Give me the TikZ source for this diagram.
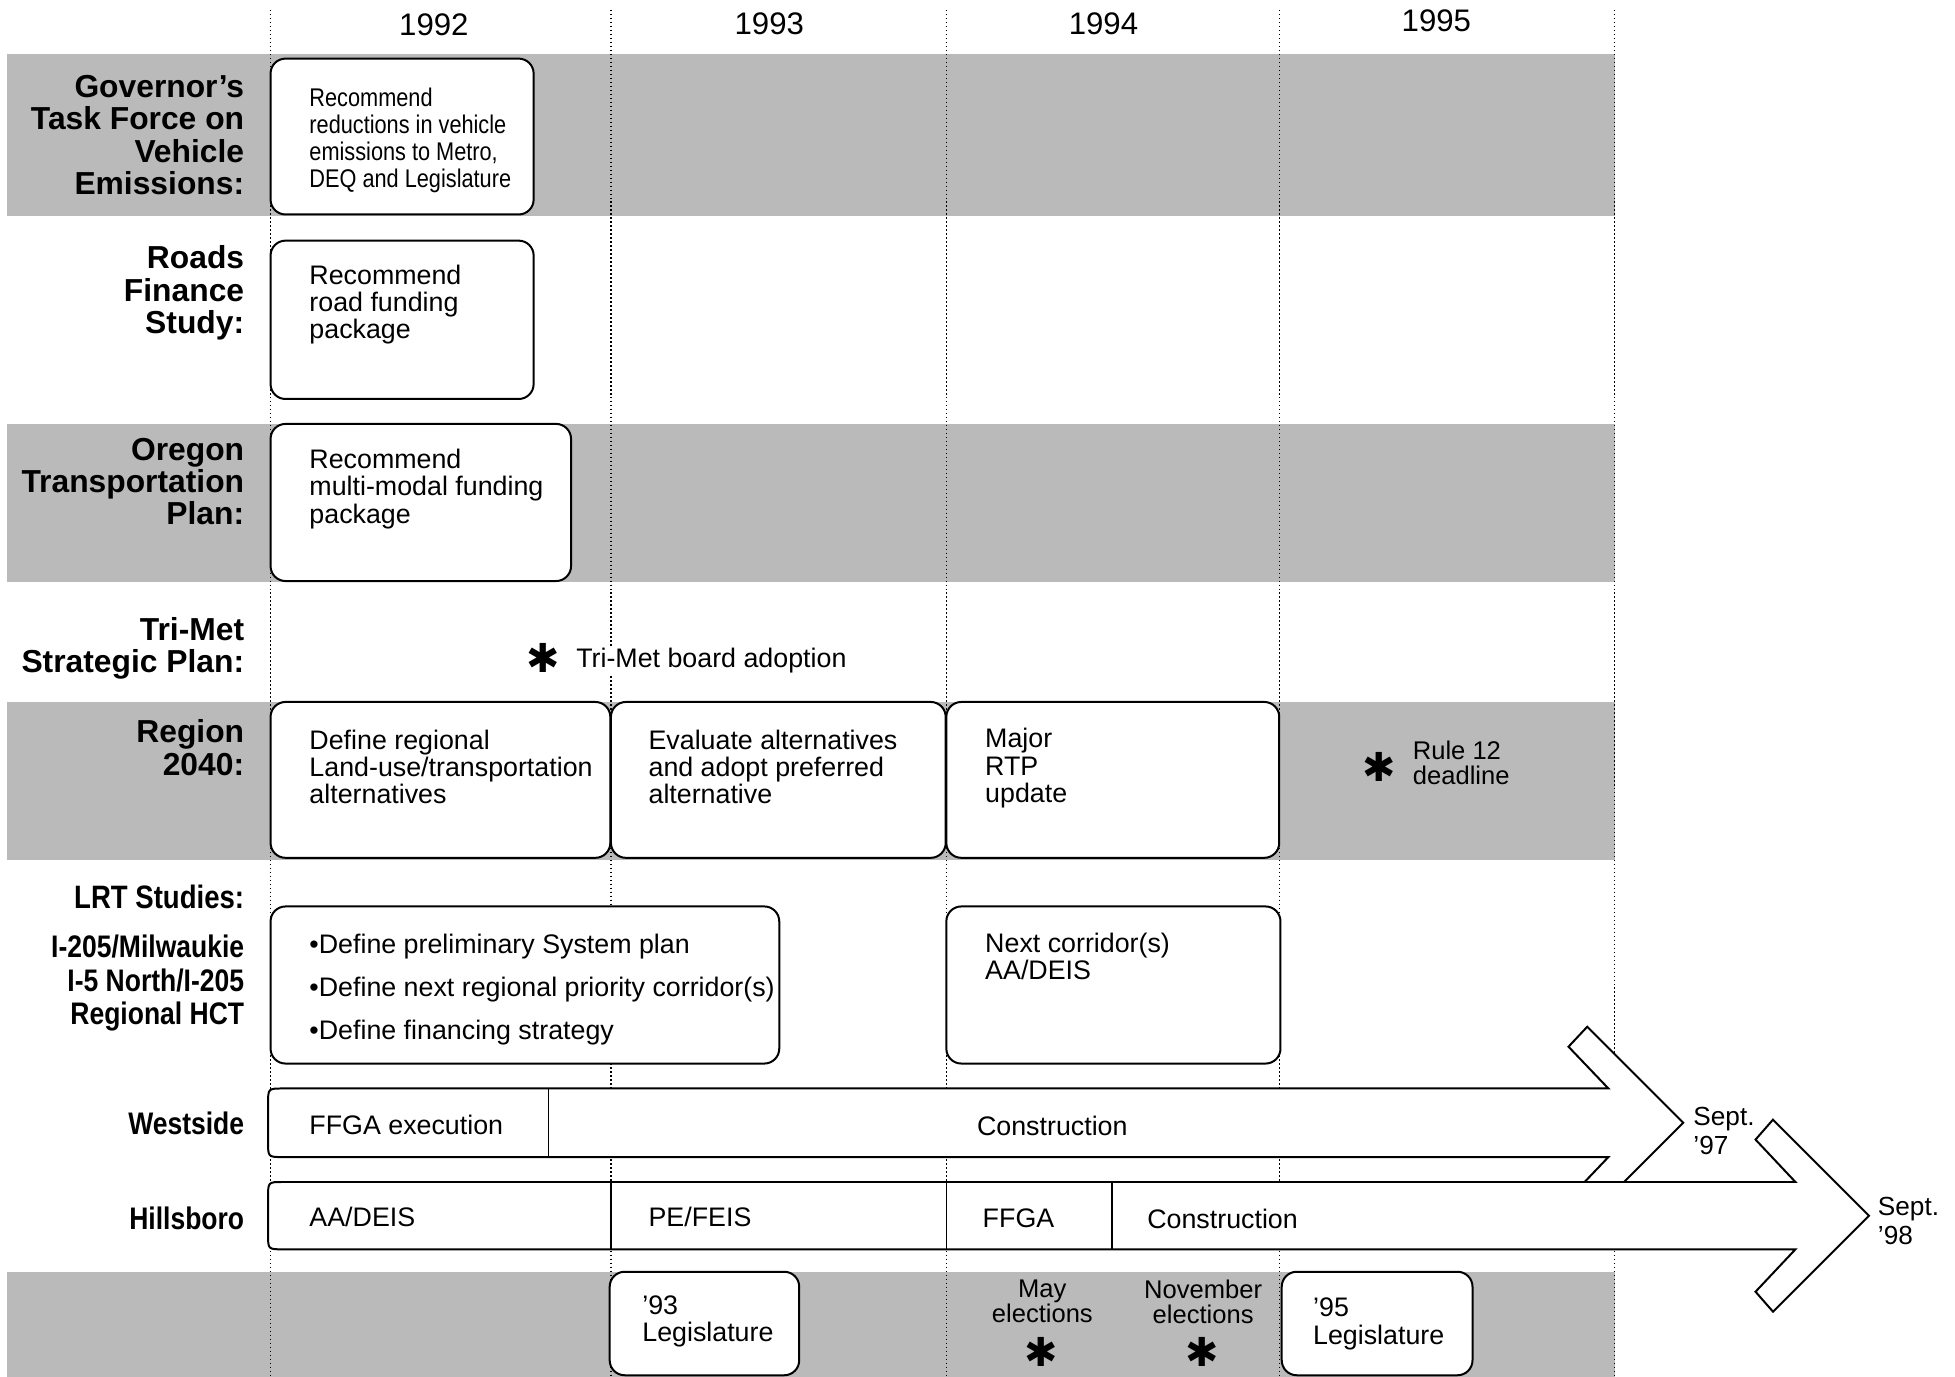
\documentclass[tikz,border=0pt]{standalone}
\usepackage{fontspec}
\setmainfont{Liberation Sans}
\newfontfamily\narrowfont{Liberation Sans}[FakeStretch=0.85]
\newfontfamily\starfont{DejaVu Sans}
\usepackage{tikz}

\begin{document}
\begin{tikzpicture}[x=1pt, y=-1pt,
        band/.style={fill=black!27},
        yearline/.style={line width=1pt, dash pattern=on 1.2pt off 2pt},
        taskbox/.style={draw, fill=white, rounded corners=12pt, line width=1.6pt,
            inner sep=0pt, outer sep=0pt, anchor=north west},
        timebar/.style={draw, fill=white, line width=1.6pt, line join=miter},
        divider/.style={line width=1.2pt},
        rowlabel/.style={font=\bfseries\fontsize{25.5}{26}\selectfont, align=right,
            anchor=north east, inner sep=0pt},
        sublabel/.style={font=\narrowfont\bfseries\fontsize{25}{26.5}\selectfont,
            align=right, inner sep=0pt},
        boxtext/.style={font=\fontsize{21.5}{22}\selectfont, align=left,
            anchor=north west, inner sep=0pt},
        smalltext/.style={font=\fontsize{20.5}{20.5}\selectfont, inner sep=0pt},
        yearlabel/.style={font=\fontsize{25}{25}\selectfont, inner sep=0pt},
        star/.style={font=\starfont\fontsize{32}{32}\selectfont, inner sep=0pt}]

    \useasboundingbox (0,0) rectangle (1568,1104);

    % Затенённые полосы
    \fill[band] (6,43) rectangle (1295,173);
    \fill[band] (6,340) rectangle (1295,467);
    \fill[band] (6,563) rectangle (1295,690);
    \fill[band] (6,1020) rectangle (1295,1104);

    % Границы лет
    \draw[yearline] (217,8) -- (217,1104);
    \draw[yearline] (490,8) -- (490,1104);
    \draw[yearline] (759,8) -- (759,1104);
    \draw[yearline] (1026,8) -- (1026,1104);
    \draw[yearline] (1295,8) -- (1295,1104);

    % Годы
    \node[yearlabel] (y92) at (348,20) {1992};
    \node[yearlabel] (y93) at (617,19) {1993};
    \node[yearlabel] (y94) at (885,19) {1994};
    \node[yearlabel] (y95) at (1152,17) {1995};

    % Подписи строк
    \node[rowlabel] (govlbl) at (196,60) {Governor’s\\Task Force on\\Vehicle\\Emissions:};
    \node[rowlabel] (roadlbl) at (196,197) {Roads\\Finance\\Study:};
    \node[rowlabel] (orelbl) at (196,351) {Oregon\\Transportation\\Plan:};
    \node[rowlabel] (tmlbl) at (196,495) {Tri-Met\\Strategic Plan:};
    \node[rowlabel] (reglbl) at (196,577) {Region\\2040:};
    \node[sublabel, anchor=east, font=\narrowfont\bfseries\fontsize{26}{26}\selectfont] (lrtlbl) at (196,719) {LRT Studies:};
    \node[sublabel, anchor=north east] (corrlbl) at (196,750) {I-205/Milwaukie\\I-5 North/I-205\\Regional HCT};
    \node[sublabel, anchor=east] (wslbl) at (196,901) {Westside};
    \node[sublabel, anchor=east] (hblbl) at (196,977) {Hillsboro};

    % Блоки 1992
    \node[taskbox, minimum width=211pt, minimum height=125pt] (govbox) at (217,47) {};
    \node[boxtext, font=\narrowfont\fontsize{20.5}{21.7}\selectfont] (govtxt) at (248,70)
        {Recommend\\reductions in vehicle\\emissions to Metro,\\DEQ and Legislature};
    \node[taskbox, minimum width=211pt, minimum height=127pt] (roadbox) at (217,193) {};
    \node[boxtext] (roadtxt) at (248,212) {Recommend\\road funding\\package};
    \node[taskbox, minimum width=241pt, minimum height=126pt] (orebox) at (217,340) {};
    \node[boxtext] (oretxt) at (248,360) {Recommend\\multi-modal funding\\package};

    % Tri-Met
    \node[star] (tmstar) at (436,528) {✱};
    \node[boxtext, anchor=west, fill=white, inner sep=2pt] (tmtxt) at (460,530) {Tri-Met board adoption};

    % Region 2040
    \node[taskbox, minimum width=272.5pt, minimum height=125pt] (regbox1) at (217,563) {};
    \node[boxtext] (regtxt1) at (248,585) {Define regional\\Land-use/transportation\\alternatives};
    \node[taskbox, minimum width=268.5pt, minimum height=125pt] (regbox2) at (490,563) {};
    \node[boxtext] (regtxt2) at (520,585) {Evaluate alternatives\\and adopt preferred\\alternative};
    \node[taskbox, minimum width=267pt, minimum height=125pt] (regbox3) at (759,563) {};
    \node[boxtext] (regtxt3) at (790,584) {Major\\RTP\\update};
    \node[star] (rulestar) at (1106,615) {✱};
    \node[smalltext, align=left, anchor=north west] (ruletxt) at (1133,594) {Rule 12\\deadline};

    % LRT
    \node[taskbox, minimum width=408pt, minimum height=126pt] (lrtbox1) at (217,727) {};
    \node[boxtext, font=\fontsize{21.5}{34.5}\selectfont] (lrttxt1) at (248,749)
        {•Define preliminary System plan\\•Define next regional priority corridor(s)\\•Define financing strategy};
    \node[taskbox, minimum width=268pt, minimum height=126pt] (lrtbox2) at (759,727) {};
    \node[boxtext] (lrttxt2) at (790,748) {Next corridor(s)\\AA/DEIS};

    % Westside
    \draw[timebar] (227,873) -- (1290,873) -- (1258,839.5) -- (1273,823.5) -- (1350,900.5)
        -- (1273,977.5) -- (1258,961.5) -- (1290,928) -- (227,928)
        .. controls (215,928) .. (215,916) -- (215,885) .. controls (215,873) .. (227,873) -- cycle;
    \draw[divider] (440,873) -- (440,928);
    \node[boxtext, anchor=west] (wsffga) at (248,902) {FFGA execution};
    \node[boxtext, anchor=center] (wscons) at (844,903) {Construction};
    \node[boxtext, font=\fontsize{21}{23}\selectfont] (ws97) at (1358,888) {Sept.\\’97};

    % Hillsboro
    \draw[timebar] (227,948) -- (1440,948) -- (1408,914) -- (1422,898) -- (1499,975)
        -- (1422,1052) -- (1408,1036) -- (1440,1002) -- (227,1002)
        .. controls (215,1002) .. (215,990) -- (215,960) .. controls (215,948) .. (227,948) -- cycle;
    \draw[divider] (490,948) -- (490,1002);
    \draw[divider] (759,948) -- (759,1002);
    \draw[divider] (892,948) -- (892,1002);
    \node[boxtext, anchor=west] (hbaa) at (248,976) {AA/DEIS};
    \node[boxtext, anchor=west] (hbpe) at (520,976) {PE/FEIS};
    \node[boxtext, anchor=west] (hbffga) at (788,977) {FFGA};
    \node[boxtext, anchor=west] (hbcons) at (920,978) {Construction};
    \node[boxtext, font=\fontsize{21}{23}\selectfont] (hb98) at (1506,960) {Sept.\\’98};

    % Законодательство и выборы
    \node[taskbox, minimum width=152pt, minimum height=83pt] (leg93) at (489,1020) {};
    \node[boxtext] (leg93txt) at (515,1039) {’93\\Legislature};
    \node[taskbox, minimum width=153pt, minimum height=83pt] (leg95) at (1028,1020) {};
    \node[boxtext] (leg95txt) at (1053,1041) {’95\\Legislature};
    \node[smalltext, align=center, anchor=north] (maytxt) at (836,1026) {May\\elections};
    \node[star] (maystar) at (835,1084) {✱};
    \node[smalltext, align=center, anchor=north] (novtxt) at (965,1026) {November\\elections};
    \node[star] (novstar) at (964,1084) {✱};

\end{tikzpicture}
\end{document}
